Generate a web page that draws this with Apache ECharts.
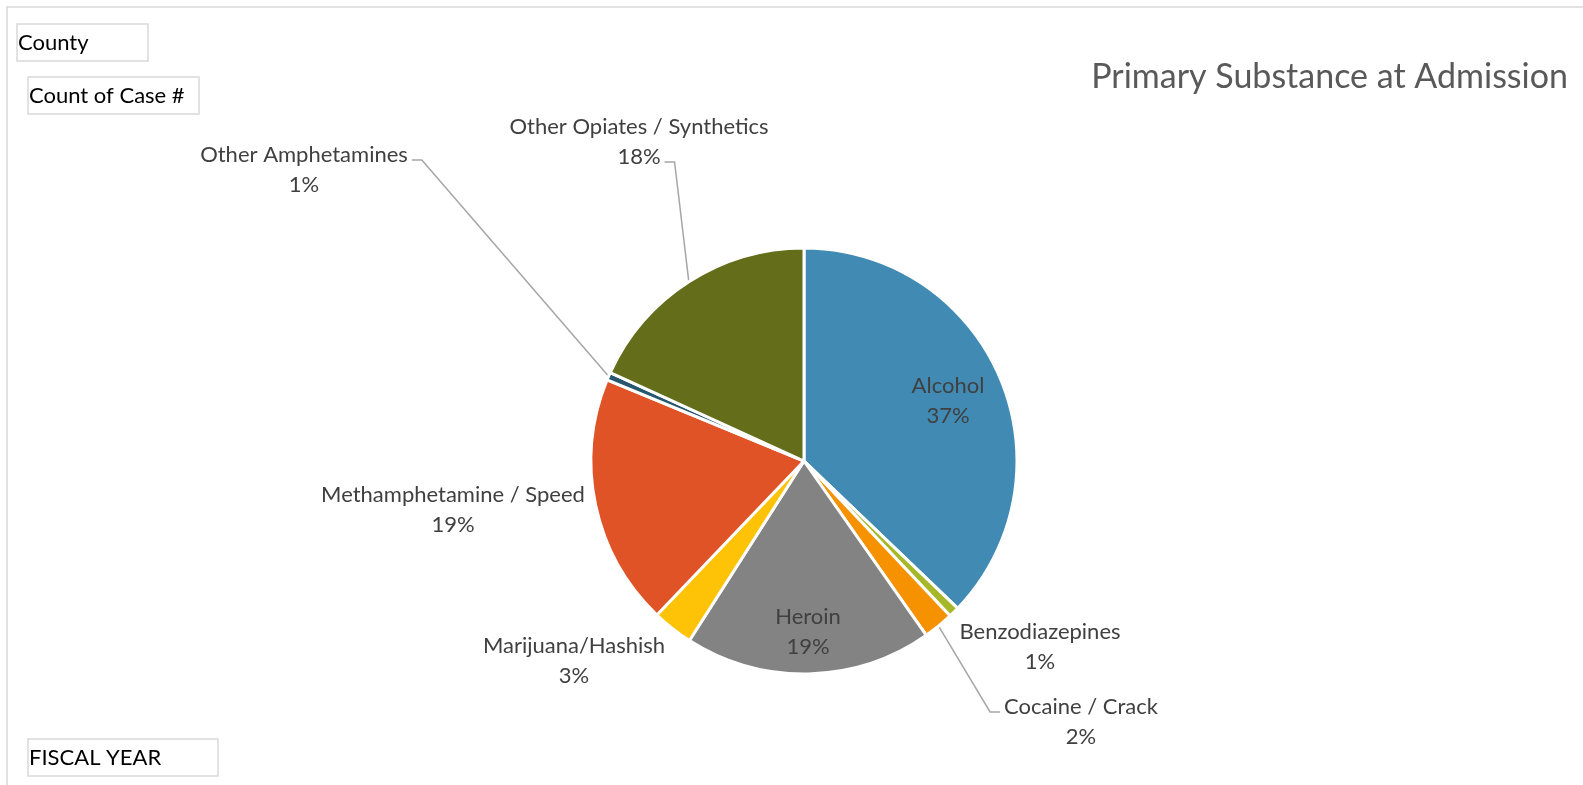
<!DOCTYPE html>
<html>
<head>
<meta charset="utf-8">
<title>Primary Substance at Admission</title>
<script src="https://cdn.jsdelivr.net/npm/echarts@6/dist/echarts.min.js"></script>
<style>
  html, body { margin: 0; padding: 0; background: #fff; }
  #chart { width: 1583px; height: 785px; }
</style>
</head>
<body>
<div id="chart"></div>
<script>
// slices, clockwise from 12 o'clock
const substances = [
  'Alcohol',
  'Benzodiazepines',
  'Cocaine / Crack',
  'Heroin',
  'Marijuana/Hashish',
  'Methamphetamine / Speed',
  'Other Amphetamines',
  'Other Opiates / Synthetics'
];
const caseCounts = [372, 8, 23, 188, 31, 191, 6, 182];
const sliceColors = ['#418AB3', '#A6B727', '#F69200', '#838383', '#FEC306', '#DF5327', '#27566F', '#646D19'];

// pivot field buttons drawn by Excel
const fieldButtons = ['County', 'Count of Case #', 'FISCAL YEAR'];

// where each label sits (centre, px)
const labelSpots = {
  'Alcohol': [948, 401],
  'Benzodiazepines': [1040, 647],
  'Cocaine / Crack': [1081, 722],
  'Heroin': [808, 632],
  'Marijuana/Hashish': [574, 661],
  'Methamphetamine / Speed': [453, 510],
  'Other Amphetamines': [304, 170],
  'Other Opiates / Synthetics': [639, 142]
};
// leader lines: which text line they hook onto and from which side
const leaders = {
  'Cocaine / Crack': { line: 0, side: -1 },
  'Other Amphetamines': { line: 0, side: 1 },
  'Other Opiates / Synthetics': { line: 1, side: 1 }
};

const FONT = 'Lato, "Open Sans", sans-serif';
const LABEL_PX = 22;
const LINE_H = 30;

const measureCtx = document.createElement('canvas').getContext('2d');
function textWidth(s) {
  measureCtx.font = LABEL_PX + 'px ' + FONT;
  return measureCtx.measureText(s).width;
}

const chart = echarts.init(document.getElementById('chart'));

const pieData = substances.map((name, i) => ({
  name: name,
  value: caseCounts[i],
  itemStyle: { color: sliceColors[i] },
  labelLine: { show: !!leaders[name] }
}));

const btnBox = [
  { x: 17, y: 24, w: 131, h: 37 },
  { x: 28, y: 77, w: 171, h: 37 },
  { x: 28, y: 739, w: 190, h: 37 }
];
const buttons = [];
fieldButtons.forEach((txt, i) => {
  const b = btnBox[i];
  buttons.push({
    type: 'rect',
    shape: { x: b.x, y: b.y, width: b.w, height: b.h },
    style: { fill: '#fff', stroke: '#D9D9D9', lineWidth: 1.5 }
  });
  buttons.push({
    type: 'text',
    x: b.x + 1,
    y: b.y + b.h / 2,
    style: { text: txt, font: '22px ' + FONT, fill: '#000', verticalAlign: 'middle' }
  });
});

chart.setOption({
  backgroundColor: '#fff',
  animation: false,
  title: {
    text: 'Primary Substance at Admission',
    right: 10,
    top: 55,
    textStyle: { fontFamily: FONT, fontSize: 34, fontWeight: 'normal', color: '#595959' }
  },
  graphic: [
    {
      type: 'polyline',
      shape: { points: [[7, 785], [7, 7], [1583, 7]] },
      style: { stroke: '#D9D9D9', lineWidth: 1.5, fill: null }
    }
  ].concat(buttons),
  series: [
    {
      type: 'pie',
      center: [804, 461],
      radius: 213,
      startAngle: 90,
      clockwise: true,
      avoidLabelOverlap: false,
      percentPrecision: 0,
      itemStyle: { borderColor: '#fff', borderWidth: 3 },
      label: {
        show: true,
        position: 'outside',
        formatter: '{b}\n{d}%',
        fontFamily: FONT,
        fontSize: LABEL_PX,
        lineHeight: LINE_H,
        color: '#404040',
        align: 'center'
      },
      labelLine: {
        length: 20,
        length2: 10,
        lineStyle: { color: '#A6A6A6', width: 1.5 }
      },
      labelLayout: function (params) {
        const name = substances[params.dataIndex];
        const spot = labelSpots[name];
        const out = { x: spot[0], y: spot[1], align: 'center', verticalAlign: 'middle' };
        const lead = leaders[name];
        if (lead && params.labelLinePoints && params.text) {
          const parts = params.text.split('\n');
          const w = textWidth(parts[lead.line]);
          const ye = spot[1] + (lead.line - 0.5) * LINE_H + 5;
          const xe = spot[0] + lead.side * (w / 2 + 4);
          const start = params.labelLinePoints[0];
          out.labelLinePoints = [[start[0], start[1]], [xe + lead.side * 10, ye], [xe, ye]];
        }
        return out;
      },
      emphasis: { disabled: true },
      data: pieData
    }
  ]
});
</script>
</body>
</html>
